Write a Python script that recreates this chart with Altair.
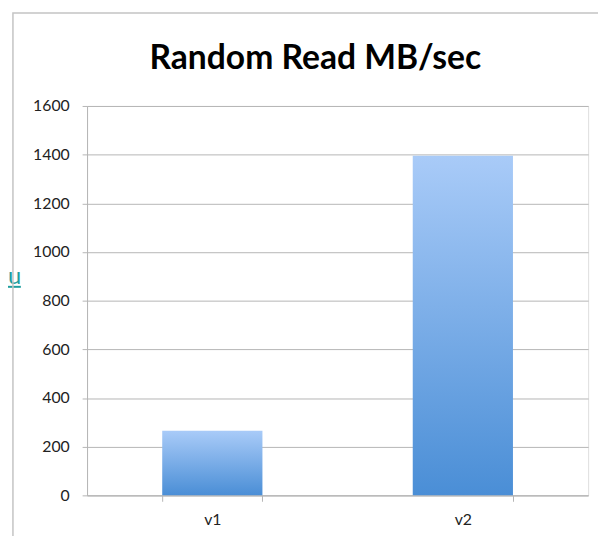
import altair as alt
import pandas as pd

categories = ["v1", "v2"]
values = [265, 1395]
y_ticks = [0, 200, 400, 600, 800, 1000, 1200, 1400, 1600]
title_text = ["Random Read MB/sec"]
stray_text = ["u"]

df = pd.DataFrame({"version": categories, "mbps": values})

gradient = alt.Gradient(
    gradient="linear",
    stops=[
        alt.GradientStop(color="#a9cbf8", offset=0),
        alt.GradientStop(color="#4a8ed6", offset=1),
    ],
    x1=0, x2=0, y1=0, y2=1,
)

grid_gray = "#b5b5b5"

bars = alt.Chart(df).mark_bar(color=gradient).encode(
    x=alt.X(
        "version:N",
        sort=categories,
        scale=alt.Scale(paddingInner=0.6, paddingOuter=0.3),
        axis=alt.Axis(
            title=None, labelAngle=0, tickBand="extent", tickSize=6,
            tickColor=grid_gray, domainColor=grid_gray, labelPadding=10,
            labelFontSize=16, labelFont="Lato", labelColor="#222222",
        ),
    ),
    y=alt.Y(
        "mbps:Q",
        scale=alt.Scale(domain=[0, 1600], nice=False),
        axis=alt.Axis(
            title=None, values=y_ticks, format="d", tickSize=5,
            tickColor=grid_gray, domainColor=grid_gray, gridColor=grid_gray,
            grid=True, labelPadding=13, labelFontSize=16, labelFont="Lato",
            labelColor="#222222",
        ),
    ),
)

border = alt.Chart(pd.DataFrame({"k": [0]})).mark_rect(
    fill="transparent", stroke="#c4c4c4", strokeWidth=1.5
).encode(
    x=alt.value(-75), x2=alt.value(700), y=alt.value(-94), y2=alt.value(700)
)

title = alt.Chart(pd.DataFrame({"t": title_text})).mark_text(
    font="Lato", fontSize=34, fontWeight="bold", color="#000000",
    align="center", baseline="alphabetic",
).encode(x=alt.value(231), y=alt.value(-37), text="t:N")

stray = alt.Chart(pd.DataFrame({"t": stray_text})).mark_text(
    font="Lato", fontSize=24, color="#1f9e9e", align="left", baseline="alphabetic"
).encode(x=alt.value(-80), y=alt.value(180), text="t:N")

stray_line = alt.Chart(pd.DataFrame({"k": [0]})).mark_rule(
    color="#1f9e9e", strokeWidth=2
).encode(x=alt.value(-80), x2=alt.value(-67), y=alt.value(183))

chart = alt.layer(stray, stray_line, border, bars, title).properties(
    width=507,
    height=394,
    autosize=alt.AutoSizeParams(type="none"),
    padding={"left": 80, "top": 96, "right": 10, "bottom": 38},
).configure_view(stroke=None).configure(background="white")

chart.save("out.html", embed_options={"renderer": "svg", "actions": False})
